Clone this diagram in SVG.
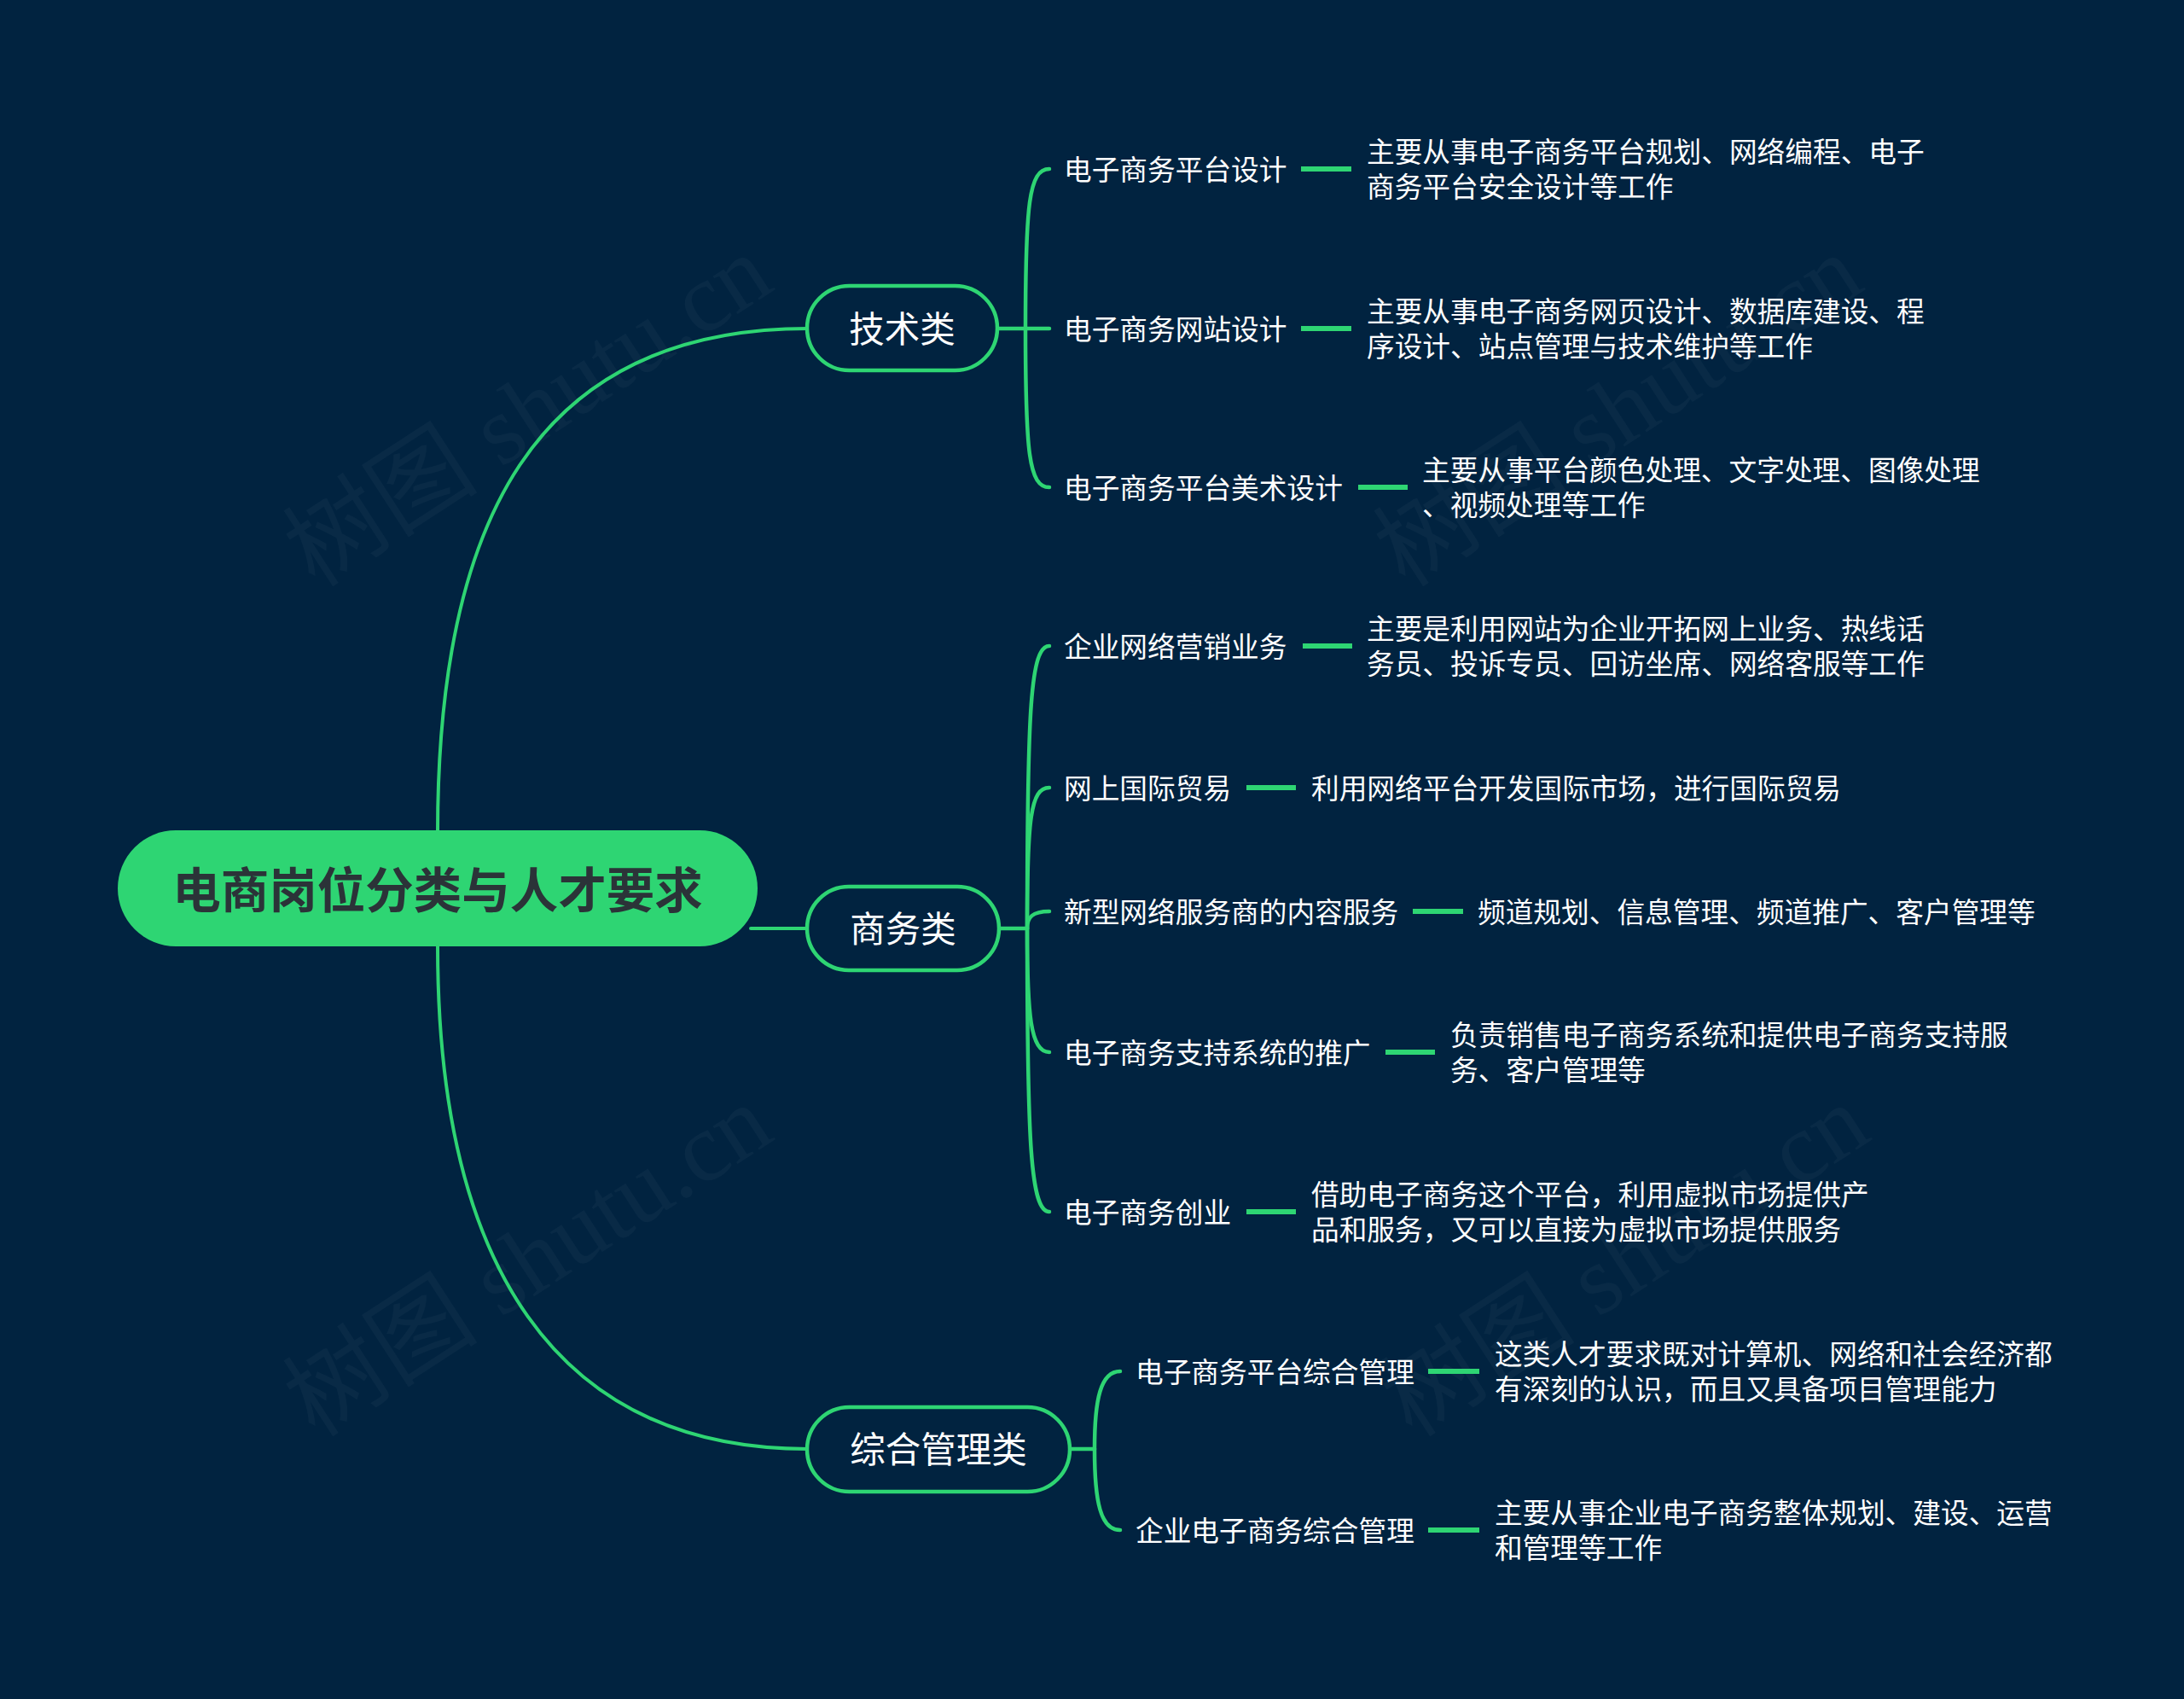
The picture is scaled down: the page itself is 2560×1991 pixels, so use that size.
<svg xmlns="http://www.w3.org/2000/svg" width="2560" height="1991" viewBox="0 0 2560 1991">
<style>
.bg{fill:#012340}
.ln{fill:none;stroke:#2ed573;stroke-width:4;stroke-linecap:round}
.sp{fill:none;stroke:#2ed573;stroke-width:4.5;stroke-linecap:round}
.dash{stroke:#2ed573;stroke-width:6}
.cat{fill:#012340;stroke:#2ed573;stroke-width:4.5}
.t{font-family:"Noto Sans CJK SC","Noto Sans",sans-serif;fill:#ffffff;dominant-baseline:central}
.leaf{font-size:32.7px}
.catt{font-size:41.5px}
.root{font-family:"Noto Sans CJK SC","Noto Sans",sans-serif;font-size:56.5px;font-weight:bold;fill:#2b3338;dominant-baseline:central}
.wm{font-family:"Liberation Serif","Noto Sans CJK SC",serif;font-size:115px;fill:#ffffff;fill-opacity:0.035}
</style>
<rect class="bg" x="0" y="0" width="2560" height="1991"/>
<g id="watermarks">
<text class="wm" x="640" y="514" text-anchor="middle" transform="rotate(-33 640 514)">树图 shutu.cn</text>
<text class="wm" x="640" y="1510" text-anchor="middle" transform="rotate(-33 640 1510)">树图 shutu.cn</text>
<text class="wm" x="1918" y="514" text-anchor="middle" transform="rotate(-33 1918 514)">树图 shutu.cn</text>
<text class="wm" x="1926" y="1510" text-anchor="middle" transform="rotate(-33 1926 1510)">树图 shutu.cn</text>
</g>
<g id="connectors">
<path class="ln" d="M 513 1041 L 513 975 C 513 615 625 385 947 385"/>
<path class="ln" d="M 513 1041 L 513 1109 C 513 1480 650 1698 947 1698"/>
<path class="ln" d="M 880 1088 L 947 1088"/>
<path class="sp" d="M 1168 385 L 1202 385"/>
<path class="sp" d="M 1202 385 C 1202 240 1206 198 1230 198"/>
<path class="sp" d="M 1202 385 L 1230 385"/>
<path class="sp" d="M 1202 385 C 1202 530 1206 571 1230 571"/>
<path class="sp" d="M 1171 1088 L 1204 1088"/>
<path class="sp" d="M 1204 1088 C 1204 830 1208 757 1230 757"/>
<path class="sp" d="M 1204 1088 C 1204 960 1208 923 1230 923"/>
<path class="sp" d="M 1204 1088 C 1204 1075 1210 1068 1230 1068"/>
<path class="sp" d="M 1204 1088 C 1204 1190 1208 1233 1230 1233"/>
<path class="sp" d="M 1204 1088 C 1204 1340 1208 1420 1230 1420"/>
<path class="sp" d="M 1254 1698 L 1283 1698"/>
<path class="sp" d="M 1283 1698 C 1283 1640 1290 1607 1313 1607"/>
<path class="sp" d="M 1283 1698 C 1283 1760 1290 1793 1313 1793"/>
<line class="dash" x1="1525" y1="198" x2="1584" y2="198"/>
<line class="dash" x1="1525" y1="385" x2="1584" y2="385"/>
<line class="dash" x1="1592" y1="571" x2="1650" y2="571"/>
<line class="dash" x1="1527" y1="757" x2="1585" y2="757"/>
<line class="dash" x1="1461" y1="923" x2="1519" y2="923"/>
<line class="dash" x1="1656" y1="1068" x2="1715" y2="1068"/>
<line class="dash" x1="1624" y1="1233" x2="1682" y2="1233"/>
<line class="dash" x1="1461" y1="1420" x2="1519" y2="1420"/>
<line class="dash" x1="1674" y1="1607" x2="1734" y2="1607"/>
<line class="dash" x1="1674" y1="1793" x2="1734" y2="1793"/>
</g>
<g id="root">
<rect x="138" y="973" width="750" height="136" rx="68" fill="#2ed573"/>
<text class="root" x="513" y="1039" text-anchor="middle">电商岗位分类与人才要求</text>
</g>
<g id="cat-tech">
<rect class="cat" x="946" y="335" width="223" height="99" rx="49.5"/>
<text class="t catt" x="1057.5" y="383" text-anchor="middle">技术类</text>
</g>
<g id="cat-biz">
<rect class="cat" x="946" y="1039" width="225" height="98" rx="49"/>
<text class="t catt" x="1058.5" y="1086" text-anchor="middle">商务类</text>
</g>
<g id="cat-mgmt">
<rect class="cat" x="946" y="1649" width="308" height="99" rx="49.5"/>
<text class="t catt" x="1100" y="1696" text-anchor="middle">综合管理类</text>
</g>
<g id="leaf1">
<text class="t leaf" x="1247" y="196">电子商务平台设计</text>
<text class="t leaf" x="1602" y="175">主要从事电子商务平台规划、网络编程、电子</text>
<text class="t leaf" x="1602" y="216">商务平台安全设计等工作</text>
</g>
<g id="leaf2">
<text class="t leaf" x="1247" y="383">电子商务网站设计</text>
<text class="t leaf" x="1602" y="362">主要从事电子商务网页设计、数据库建设、程</text>
<text class="t leaf" x="1602" y="403">序设计、站点管理与技术维护等工作</text>
</g>
<g id="leaf3">
<text class="t leaf" x="1247" y="569">电子商务平台美术设计</text>
<text class="t leaf" x="1667" y="548">主要从事平台颜色处理、文字处理、图像处理</text>
<text class="t leaf" x="1667" y="589">、视频处理等工作</text>
</g>
<g id="leaf4">
<text class="t leaf" x="1247" y="755">企业网络营销业务</text>
<text class="t leaf" x="1602" y="734">主要是利用网站为企业开拓网上业务、热线话</text>
<text class="t leaf" x="1602" y="775">务员、投诉专员、回访坐席、网络客服等工作</text>
</g>
<g id="leaf5">
<text class="t leaf" x="1247" y="921">网上国际贸易</text>
<text class="t leaf" x="1537" y="921">利用网络平台开发国际市场，进行国际贸易</text>
</g>
<g id="leaf6">
<text class="t leaf" x="1247" y="1066">新型网络服务商的内容服务</text>
<text class="t leaf" x="1732" y="1066">频道规划、信息管理、频道推广、客户管理等</text>
</g>
<g id="leaf7">
<text class="t leaf" x="1247" y="1231">电子商务支持系统的推广</text>
<text class="t leaf" x="1700" y="1210">负责销售电子商务系统和提供电子商务支持服</text>
<text class="t leaf" x="1700" y="1251">务、客户管理等</text>
</g>
<g id="leaf8">
<text class="t leaf" x="1247" y="1418">电子商务创业</text>
<text class="t leaf" x="1537" y="1397">借助电子商务这个平台，利用虚拟市场提供产</text>
<text class="t leaf" x="1537" y="1438">品和服务，又可以直接为虚拟市场提供服务</text>
</g>
<g id="leaf9">
<text class="t leaf" x="1331" y="1605">电子商务平台综合管理</text>
<text class="t leaf" x="1752" y="1584">这类人才要求既对计算机、网络和社会经济都</text>
<text class="t leaf" x="1752" y="1625">有深刻的认识，而且又具备项目管理能力</text>
</g>
<g id="leaf10">
<text class="t leaf" x="1331" y="1791">企业电子商务综合管理</text>
<text class="t leaf" x="1752" y="1770">主要从事企业电子商务整体规划、建设、运营</text>
<text class="t leaf" x="1752" y="1811">和管理等工作</text>
</g>
</svg>
